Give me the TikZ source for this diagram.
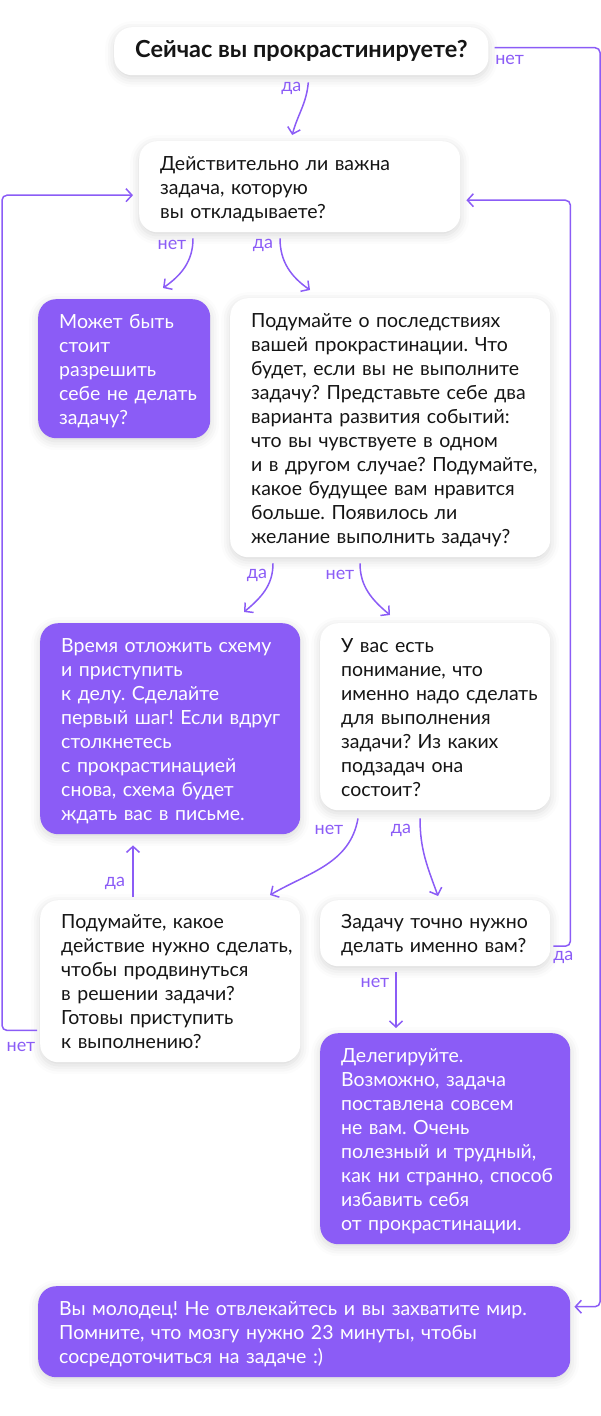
\documentclass[tikz,border=0pt]{standalone}
\usepackage{fontspec}
\setmainfont{Lato}
\usepackage{tikz}
\usetikzlibrary{arrows.meta, shadows.blur}
\frenchspacing

\definecolor{lilac}{HTML}{8B5CF6}
\definecolor{ink}{HTML}{151515}
\newcommand{\rows}[1]{\raisebox{0pt}[\dimexpr\height+5pt][\depth]{\begin{tabular}{@{}l@{}}#1\end{tabular}}}

\begin{document}
\begin{tikzpicture}[x=1pt, y=1pt,
      box/.style={rounded corners=18pt, anchor=north west, align=left,
                  inner xsep=21pt, inner ysep=0pt,
                  font=\fontsize{19.5}{24}\selectfont,
                  blur shadow={shadow xshift=0pt, shadow yshift=-3pt,
                               shadow blur radius=9pt, shadow opacity=16}},
      wbox/.style={box, fill=white, text=ink},
      pbox/.style={box, fill=lilac, text=white},
      link/.style={draw=lilac, line width=1.5pt,
                   -{Straight Barb[length=6pt, width=13pt]}},
      tag/.style={text=lilac, font=\fontsize{18}{18}\selectfont, inner sep=0pt}]
    \useasboundingbox (0,0) rectangle (600,-1416);

    \node[wbox, align=center, minimum width=372pt, minimum height=48pt,
          font=\fontsize{23.5}{26}\selectfont\bfseries]
                                       (now)   at (114,-27)   {Сейчас вы прокрастинируете?};
    \node[wbox, minimum width=321pt, minimum height=91pt, text width=279pt]
                                       (ask)   at (139,-141)  {\rows{Действительно ли важна\\задача, которую\\вы откладываете?}};
    \node[pbox, minimum width=172pt, minimum height=139pt, text width=130pt]
                                       (maybe) at (38,-299)   {\rows{Может быть\\стоит\\разрешить\\себе не делать\\задачу?}};
    \node[wbox, minimum width=320pt, minimum height=259pt, text width=278pt]
                                       (think) at (230,-298)  {\rows{Подумайте о последствиях\\вашей прокрастинации. Что\\будет, если вы не выполните\\задачу? Представьте себе два\\варианта развития событий:\\что вы чувствуете в одном\\и в другом случае? Подумайте,\\какое будущее вам нравится\\больше. Появилось ли\\желание выполнить задачу?}};
    \node[pbox, minimum width=260pt, minimum height=211pt, text width=218pt]
                                       (dive)  at (40,-623)   {\rows{Время отложить схему\\и приступить\\к делу. Сделайте\\первый шаг! Если вдруг\\столкнетесь\\с прокрастинацией\\снова, схема будет\\ждать вас в письме.}};
    \node[wbox, minimum width=230pt, minimum height=187pt, text width=188pt]
                                       (plan)  at (320,-623)  {\rows{У вас есть\\понимание, что\\именно надо сделать\\для выполнения\\задачи? Из каких\\подзадач она\\состоит?}};
    \node[wbox, minimum width=260pt, minimum height=162pt, text width=218pt]
                                       (step)  at (40,-900)   {\rows{Подумайте, какое\\действие нужно сделать,\\чтобы продвинуться\\в решении задачи?\\Готовы приступить\\к выполнению?}};
    \node[wbox, minimum width=230pt, minimum height=66pt, text width=188pt]
                                       (who)   at (320,-900)  {\rows{Задачу точно нужно\\делать именно вам?}};
    \node[pbox, minimum width=250pt, minimum height=211pt, text width=208pt]
                                       (deleg) at (320,-1033) {\rows{Делегируйте.\\Возможно, задача\\поставлена совсем\\не вам. Очень\\полезный и трудный,\\как ни странно, способ\\избавить себя\\от прокрастинации.}};
    \node[pbox, minimum width=532pt, minimum height=91pt, text width=490pt]
                                       (done)  at (38,-1286)  {\rows{Вы молодец! Не отвлекайтесь и вы захватите мир.\\Помните, что мозгу нужно 23 минуты, чтобы\\сосредоточиться на задаче :)}};

    % answers
    \draw[link] ([shift={(7,-7)}]now.south) to[out=-95, in=75]
        node[tag, at start, xshift=-17pt, yshift=-6pt] {да} ([shift={(-7.5,6)}]ask.north);
    \draw[link, rounded corners=5pt] ([shift={(6,3.5)}]now.east)
        node[tag, xshift=15pt, yshift=-12.5pt] {нет} -- ++(105.5,0) |- ([shift={(4,25)}]done.east);
    \draw[link] ([shift={(54,-6)}]ask.south west) to[out=-90, in=35]
        node[tag, at start, xshift=-21pt, yshift=-7pt] {нет} ([shift={(125,11)}]maybe.north west);
    \draw[link] ([shift={(141,-6)}]ask.south west) to[out=-90, in=145]
        node[tag, at start, xshift=-17pt, yshift=-7pt] {да} ([shift={(80,8)}]think.north west);
    \draw[link] ([shift={(43,-6)}]think.south west) to[out=-90, in=40]
        node[tag, at start, xshift=-16pt, yshift=-12pt] {да} ([shift={(204,11)}]dive.north west);
    \draw[link] ([shift={(130,-6)}]think.south west) to[out=-90, in=140]
        node[tag, at start, xshift=-20pt, yshift=-12pt] {нет} ([shift={(70,8)}]plan.north west);
    \draw[link] ([shift={(38,-8)}]plan.south west) to[out=-100, in=30]
        node[tag, at start, xshift=-29pt, yshift=-12pt] {нет} ([shift={(230,5)}]step.north west);
    \draw[link] ([shift={(100,-8)}]plan.south west) to[out=-90, in=110]
        node[tag, at start, xshift=-19pt, yshift=-12pt] {да} ([shift={(118,4)}]who.north west);
    \draw[link] ([shift={(93,3)}]step.north west)
        node[tag, xshift=-18pt, yshift=14pt] {да} -- ([shift={(93,-11)}]dive.south west);
    \draw[link, rounded corners=5pt] ([shift={(-3,32)}]step.south west)
        node[tag, xshift=-16pt, yshift=-17pt] {нет} -- ++(-35,0) |- ([shift={(-6,-8.5)}]ask.west);
    \draw[link, rounded corners=5pt] ([shift={(3,-13)}]who.east)
        node[tag, xshift=10pt, yshift=-11pt] {да} -- ++(17,0) |- ([shift={(6,-13.5)}]ask.east);
    \draw[link] ([shift={(76,-6)}]who.south west)
        node[tag, xshift=-21pt, yshift=-11pt] {нет} -- ([shift={(76,5)}]deleg.north west);
  \end{tikzpicture}
\end{document}
